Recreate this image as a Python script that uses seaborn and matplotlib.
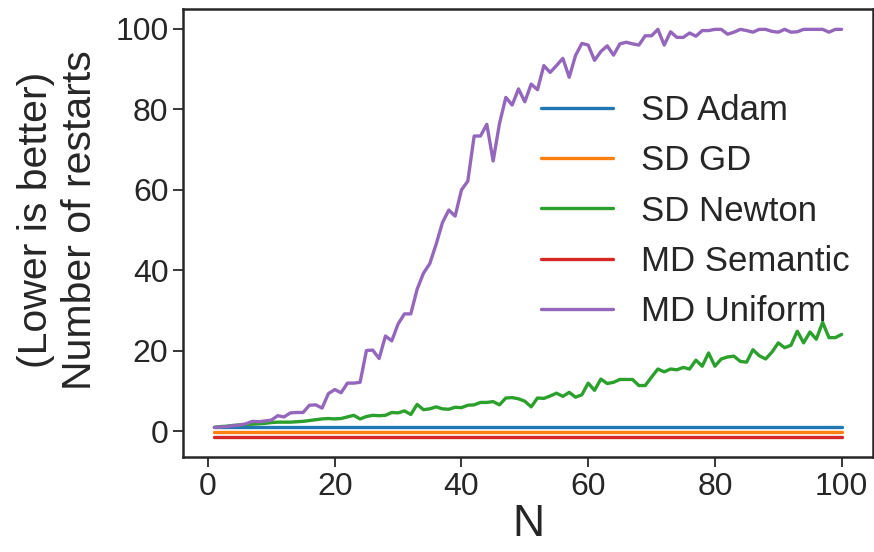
import numpy as np
import pandas as pd
import seaborn as sns
import matplotlib
matplotlib.use("Agg")
import matplotlib.pyplot as plt

N = list(range(1, 101))
methods = ["SD Adam", "SD GD", "SD Newton", "MD Semantic", "MD Uniform"]

sd_adam = [1.0] * 100
sd_gd = [-0.2] * 100
md_semantic = [-1.3] * 100

sd_newton = [1.0, 1.2, 1.3, 1.5, 1.6, 1.7, 1.8, 1.9, 2.0, 2.2,
             2.3, 2.3, 2.3, 2.4, 2.5, 2.7, 2.9, 3.1, 3.2, 3.1,
             3.2, 3.6, 4.0, 3.1, 3.7, 4.0, 3.9, 4.0, 4.7, 4.6,
             5.1, 4.2, 6.7, 5.4, 5.6, 6.1, 5.6, 5.5, 6.0, 5.9,
             6.5, 6.6, 7.2, 7.2, 7.4, 6.6, 8.3, 8.4, 8.1, 7.5,
             6.1, 8.3, 8.2, 8.8, 9.5, 8.7, 9.7, 8.5, 9.1, 12.0,
             10.2, 13.0, 11.9, 12.2, 12.9, 12.9, 12.9, 11.4, 11.4, 13.5,
             15.5, 14.8, 15.5, 15.3, 15.9, 15.5, 17.7, 16.2, 19.5, 16.2,
             18.0, 18.5, 18.7, 17.4, 17.2, 20.3, 18.8, 18.0, 19.7, 22.0,
             20.8, 21.4, 24.9, 22.0, 24.7, 22.9, 27.1, 23.3, 23.3, 24.1]

md_uniform = [1.0, 1.1, 1.2, 1.4, 1.6, 1.9, 2.5, 2.4, 2.6, 2.8,
              3.9, 3.6, 4.6, 4.7, 4.7, 6.5, 6.6, 5.8, 9.4, 10.4,
              9.6, 12.0, 12.0, 12.2, 20.1, 20.2, 18.1, 23.7, 22.5, 26.7,
              29.2, 29.2, 35.3, 39.3, 41.7, 46.5, 51.9, 55.0, 53.5, 60.0,
              62.2, 73.4, 73.4, 76.3, 67.2, 76.5, 83.0, 81.1, 85.1, 81.9,
              86.3, 84.9, 90.9, 89.2, 90.9, 92.7, 88.0, 93.4, 96.4, 96.0,
              92.2, 94.4, 95.8, 93.5, 96.3, 96.7, 96.3, 96.0, 98.3, 98.3,
              99.9, 96.0, 99.3, 97.9, 97.9, 99.0, 98.2, 99.6, 99.6, 99.9,
              99.9, 98.7, 99.2, 99.9, 99.6, 99.2, 99.9, 99.9, 99.4, 99.2,
              99.9, 99.2, 99.3, 99.9, 99.9, 99.9, 99.9, 99.2, 99.9, 99.9]

series = [sd_adam, sd_gd, sd_newton, md_semantic, md_uniform]
df = pd.concat(
    [pd.DataFrame({"N": N, "restarts": vals, "method": m}) for m, vals in zip(methods, series)],
    ignore_index=True,
)

sns.set_theme(style="ticks")
plt.rcParams["font.family"] = ["Liberation Sans", "DejaVu Sans"]
plt.rcParams.update({
    "axes.edgecolor": "#262626",
    "axes.linewidth": 1.8,
    "xtick.major.size": 7,
    "ytick.major.size": 7,
    "xtick.major.width": 1.3,
    "ytick.major.width": 1.3,
    "xtick.color": "#262626",
    "ytick.color": "#262626",
})

fig = plt.figure(figsize=(8.74, 5.52), dpi=100)
ax = fig.add_axes([183 / 874, 1 - 457 / 552, 690 / 874, 448 / 552])

sns.lineplot(data=df, x="N", y="restarts", hue="method", hue_order=methods,
             palette=sns.color_palette("tab10", 5), linewidth=2.4, ax=ax,
             estimator=None)

ax.set_xlabel("N", fontsize=32, color="#262626", labelpad=2)
ax.set_ylabel("(Lower is better)\nNumber of restarts", fontsize=29.5, color="#262626",
              linespacing=1.2)
ax.yaxis.set_label_coords(-0.122, 0.529)
ax.tick_params(labelsize=23, colors="#262626")
ax.set_xticks([0, 20, 40, 60, 80, 100])
ax.set_yticks([0, 20, 40, 60, 80, 100])

leg = ax.legend(frameon=False, fontsize=25, loc="center right",
                bbox_to_anchor=(1.0116, 0.549), handlelength=2.07, handletextpad=0.8,
                labelspacing=0.5)
for line in leg.get_lines():
    line.set_linewidth(2.4)

fig.savefig("out.png", dpi=100)
